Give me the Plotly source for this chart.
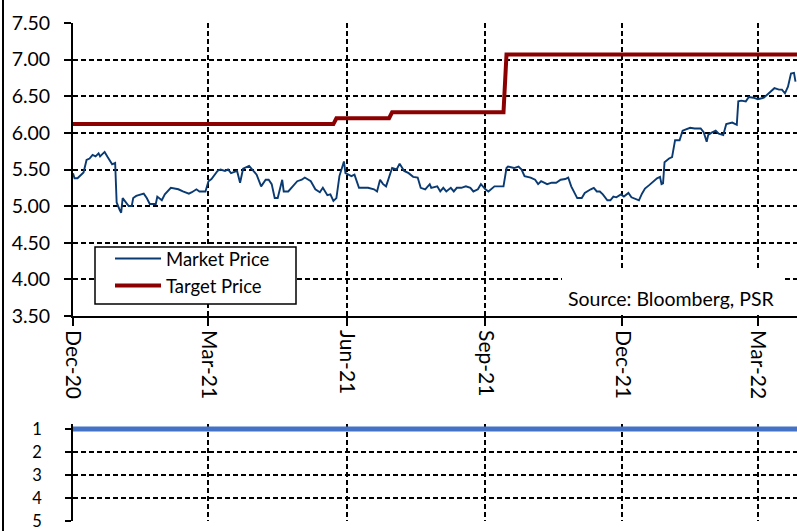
import plotly.graph_objects as go

# ---------------- data ----------------
market_dates = [
    "2020-12-01","2020-12-02","2020-12-04","2020-12-08","2020-12-10","2020-12-12","2020-12-14","2020-12-16",
    "2020-12-18","2020-12-19","2020-12-20","2020-12-22","2020-12-24","2020-12-27","2020-12-29","2020-12-30",
    "2021-01-01","2021-01-02","2021-01-03","2021-01-05","2021-01-07","2021-01-09","2021-01-10","2021-01-12",
    "2021-01-17","2021-01-19","2021-01-21","2021-01-25","2021-01-26","2021-01-29","2021-01-31","2021-02-04",
    "2021-02-06","2021-02-09","2021-02-12","2021-02-16","2021-02-18","2021-02-21","2021-02-23","2021-02-27",
    "2021-03-01","2021-03-03","2021-03-07","2021-03-09","2021-03-12","2021-03-14","2021-03-16","2021-03-20",
    "2021-03-22","2021-03-24","2021-03-28","2021-03-30","2021-04-02","2021-04-05","2021-04-08","2021-04-10",
    "2021-04-12","2021-04-14","2021-04-16","2021-04-19","2021-04-20","2021-04-23","2021-04-26","2021-04-29",
    "2021-05-02","2021-05-04","2021-05-08","2021-05-11","2021-05-14","2021-05-16","2021-05-19","2021-05-21",
    "2021-05-23","2021-05-25","2021-05-27","2021-05-30","2021-05-31","2021-06-02","2021-06-04","2021-06-06",
    "2021-06-09","2021-06-11","2021-06-15","2021-06-19","2021-06-21","2021-06-23","2021-06-25","2021-06-27",
    "2021-07-01","2021-07-04","2021-07-06","2021-07-09","2021-07-12","2021-07-15","2021-07-18","2021-07-20",
    "2021-07-23","2021-07-26","2021-07-27","2021-07-31","2021-08-02","2021-08-04","2021-08-06","2021-08-09",
    "2021-08-11","2021-08-13","2021-08-16","2021-08-19","2021-08-22","2021-08-24","2021-08-27","2021-08-29",
    "2021-09-01","2021-09-03","2021-09-05","2021-09-07","2021-09-10","2021-09-13","2021-09-15","2021-09-16",
    "2021-09-20","2021-09-23","2021-09-25","2021-09-27","2021-10-01","2021-10-04","2021-10-06","2021-10-08",
    "2021-10-12","2021-10-15","2021-10-18","2021-10-21","2021-10-24","2021-10-26","2021-10-28","2021-11-01",
    "2021-11-04","2021-11-06","2021-11-10","2021-11-12","2021-11-14","2021-11-16","2021-11-18","2021-11-21",
    "2021-11-23","2021-11-25","2021-11-27","2021-11-30","2021-12-02","2021-12-05","2021-12-07","2021-12-09",
    "2021-12-12","2021-12-14","2021-12-16","2021-12-19","2021-12-22","2021-12-24","2021-12-26","2021-12-27",
    "2021-12-28","2021-12-29","2022-01-01","2022-01-03","2022-01-05","2022-01-08","2022-01-10","2022-01-13",
    "2022-01-15","2022-01-18","2022-01-22","2022-01-24","2022-01-26","2022-01-27","2022-01-29","2022-02-01",
    "2022-02-03","2022-02-06","2022-02-08","2022-02-12","2022-02-15","2022-02-16","2022-02-18","2022-02-21",
    "2022-02-23","2022-02-26","2022-03-01","2022-03-05","2022-03-07","2022-03-09","2022-03-12","2022-03-15",
    "2022-03-17","2022-03-19","2022-03-21","2022-03-23","2022-03-25","2022-03-26",
]
market_price = [
    5.45,5.38,5.38,5.46,5.63,5.65,5.70,5.68,
    5.72,5.68,5.70,5.74,5.67,5.57,5.59,5.05,
    4.95,4.91,5.11,5.05,5.00,5.00,5.11,5.14,
    5.17,5.11,5.03,5.03,5.13,5.08,5.16,5.25,
    5.24,5.23,5.20,5.17,5.19,5.23,5.20,5.20,
    5.34,5.37,5.48,5.50,5.48,5.50,5.45,5.48,
    5.32,5.51,5.55,5.50,5.43,5.27,5.36,5.36,
    5.30,5.11,5.11,5.36,5.20,5.20,5.27,5.34,
    5.36,5.39,5.34,5.23,5.19,5.25,5.15,5.16,
    5.07,5.11,5.41,5.61,5.45,5.43,5.41,5.43,
    5.25,5.25,5.25,5.23,5.20,5.36,5.30,5.27,
    5.52,5.50,5.58,5.48,5.45,5.40,5.39,5.25,
    5.23,5.30,5.25,5.27,5.20,5.25,5.20,5.25,
    5.20,5.25,5.25,5.27,5.25,5.20,5.23,5.30,
    5.23,5.20,5.23,5.27,5.27,5.27,5.52,5.54,
    5.52,5.54,5.50,5.41,5.39,5.36,5.30,5.34,
    5.30,5.32,5.32,5.36,5.37,5.39,5.27,5.11,
    5.11,5.18,5.23,5.25,5.20,5.20,5.16,5.08,
    5.08,5.13,5.12,5.16,5.13,5.18,5.12,5.10,
    5.08,5.17,5.24,5.29,5.35,5.38,5.40,5.30,
    5.31,5.60,5.65,5.67,5.90,5.90,6.03,6.06,
    6.07,6.06,6.06,6.01,5.88,5.97,6.00,6.03,
    5.99,5.97,6.12,6.14,6.11,6.43,6.44,6.43,
    6.49,6.48,6.46,6.48,6.52,6.56,6.61,6.59,
    6.59,6.54,6.63,6.81,6.82,6.70,
]

target_dates = ["2020-12-01", "2021-05-23", "2021-05-25", "2021-06-29", "2021-07-01",
                "2021-09-13", "2021-09-15", "2022-03-27"]
target_price = [6.12, 6.12, 6.20, 6.20, 6.28, 6.28, 7.07, 7.07]

rating_dates = ["2020-11-27", "2022-03-27"]
rating_value = [1, 1]

tick_dates = ["2020-12-01", "2021-03-01", "2021-06-01", "2021-09-01", "2021-12-01", "2022-03-01"]
tick_labels = ["Dec-20", "Mar-21", "Jun-21", "Sep-21", "Dec-21", "Mar-22"]

x_range = ["2020-12-01", "2022-03-27"]
price_ticks = [3.5, 4.0, 4.5, 5.0, 5.5, 6.0, 6.5, 7.0, 7.5]
rating_ticks = [1, 2, 3, 4, 5]
rating_range = [5, 0.8]

# ---------------- layout geometry ----------------
W, H = 797, 531
L = 73
PW = W - L
FONT = "Lato"

def py(px):  # pixel y from top -> paper fraction
    return 1 - px / H

def px_x(px):
    return (px - L) / PW

fig = go.Figure()

fig.add_trace(go.Scatter(
    x=market_dates, y=market_price, name="Market Price", mode="lines",
    line=dict(color="#0A3A72", width=1.9), xaxis="x", yaxis="y"))
fig.add_trace(go.Scatter(
    x=target_dates, y=target_price, name="Target Price", mode="lines",
    line=dict(color="#8B0000", width=4), xaxis="x", yaxis="y"))
fig.add_trace(go.Scatter(
    x=rating_dates, y=rating_value, mode="lines", showlegend=False,
    line=dict(color="#4472C4", width=5), cliponaxis=False, xaxis="x2", yaxis="y2"))

grid = dict(showgrid=True, gridcolor="black", gridwidth=1.7, griddash="5px,3px",
            automargin=False, zeroline=False)

# bottom panel: value 1 at pixel 429, value 5 at pixel 521
unit = (521 - 429) / 4.0
top_px = 429 - (1 - rating_range[1]) * unit

fig.update_layout(
    width=W, height=H,
    margin=dict(l=L, r=0, t=0, b=0, autoexpand=False),
    paper_bgcolor="white", plot_bgcolor="white",
    font=dict(family=FONT, size=18, color="black"),
    xaxis=dict(
        type="date", range=x_range, domain=[0, 1], anchor="y",
        tickmode="array", tickvals=tick_dates, ticktext=tick_labels,
        tickangle=90, ticks="outside", ticklen=8, tickwidth=1.7, tickcolor="black",
        showline=True, linecolor="black", linewidth=1.8,
        tickfont=dict(size=21), **grid),
    yaxis=dict(
        range=[3.5, 7.5], domain=[py(316), py(23)], anchor="x",
        tickmode="array", tickvals=price_ticks,
        tickformat=".2f", ticks="outside", ticklen=7, tickwidth=1.7, tickcolor="black",
        showline=True, linecolor="black", linewidth=1.8, ticklabelstandoff=10,
        tickfont=dict(size=19.5), **grid),
    xaxis2=dict(
        type="date", range=x_range, domain=[0, 1], anchor="y2",
        tickmode="array", tickvals=tick_dates, showticklabels=False, ticks="",
        showline=False, **grid),
    yaxis2=dict(
        range=rating_range, domain=[py(521), py(top_px)], anchor="x2",
        tickmode="array", tickvals=rating_ticks, ticks="outside", ticklen=6,
        tickwidth=1.7, tickcolor="black", showline=True, linecolor="black", linewidth=1.8,
        ticklabelstandoff=20, tickfont=dict(size=16.5), **grid),
    legend=dict(
        x=px_x(110), y=py(240), xanchor="left", yanchor="top",
        bgcolor="rgba(0,0,0,0)", borderwidth=0,
        font=dict(size=18.5), itemwidth=46, tracegroupgap=0),
    showlegend=True,
    shapes=[
        # white panel behind the source note
        dict(type="rect", xref="paper", yref="paper",
             x0=px_x(562), x1=px_x(782), y0=py(315), y1=py(270),
             fillcolor="white", line=dict(width=0), layer="above"),
        # legend frame
        dict(type="rect", xref="paper", yref="paper",
             x0=px_x(95), x1=px_x(296), y0=py(304), y1=py(247),
             fillcolor="white", line=dict(color="black", width=1.5), layer="above"),
        # left frame line
        dict(type="line", xref="paper", yref="paper",
             x0=px_x(3), x1=px_x(3), y0=0, y1=1,
             line=dict(color="black", width=2)),
    ],
    annotations=[
        dict(text="Source: Bloomberg, PSR", xref="paper", yref="paper",
             x=px_x(671), y=py(298), xanchor="center", yanchor="middle",
             showarrow=False, font=dict(size=19.5, family=FONT)),
    ],
)

fig.write_html("out.html")
